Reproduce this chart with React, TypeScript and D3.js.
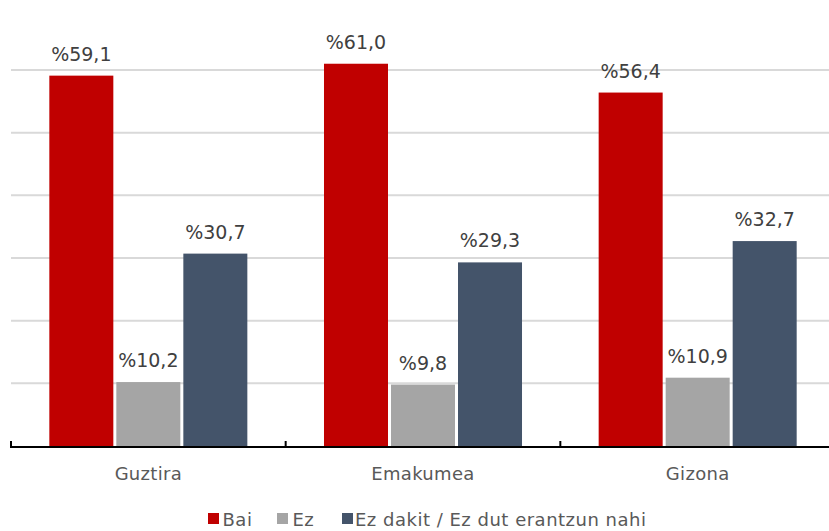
import React from "react";
import * as d3 from "d3";

const categories = ["Guztira", "Emakumea", "Gizona"];
const seriesNames = ["Bai", "Ez", "Ez dakit / Ez dut erantzun nahi"];
const bai = [59.1, 61.0, 56.4];
const ez = [10.2, 9.8, 10.9];
const ezDakit = [30.7, 29.3, 32.7];
const gridValues = [10, 20, 30, 40, 50, 60];
const colors = ["#C00000", "#A5A5A5", "#44546A"];

const W = 829;
const H = 531;
const FONT = "'DejaVu Sans', Verdana, sans-serif";

export default function App() {
  const seriesValues = [bai, ez, ezDakit];
  const x0 = d3.scaleBand<string>().domain(categories).range([11, 835]).paddingInner(0).paddingOuter(0);
  const bw = x0.bandwidth();
  const x1 = d3
    .scaleBand<string>()
    .domain(seriesNames)
    .range([0, bw])
    .paddingInner(0.0448)
    .paddingOuter(0.572);
  const y = d3.scaleLinear().domain([0, 60]).range([446, 70]);
  const fmt = (v: number) => "%" + v.toFixed(1).replace(".", ",");

  const tickXs = [...categories.map((c) => x0(c) as number), 835];

  const legendItems = [
    { sx: 208, tx: 222.5 },
    { sx: 277, tx: 292.5 },
    { sx: 342, tx: 355 },
  ];

  return (
    <svg width={W} height={H} style={{ position: "absolute", left: 0, top: 0, background: "#fff" }} fontFamily={FONT}>
      <rect x={0} y={0} width={W} height={H} fill="#fff" />
      {gridValues.map((g) => (
        <line key={g} x1={11} x2={835} y1={y(g)} y2={y(g)} stroke="#D9D9D9" strokeWidth={2} />
      ))}
      {categories.map((c, ci) =>
        seriesNames.map((s, si) => {
          const v = seriesValues[si][ci];
          const bx = (x0(c) as number) + (x1(s) as number);
          return (
            <g key={c + s}>
              <rect x={bx} y={y(v)} width={x1.bandwidth()} height={y(0) - y(v)} fill={colors[si]} />
              <text
                x={bx + x1.bandwidth() / 2}
                y={y(v) - 15}
                textAnchor="middle"
                fontSize={19}
                fill="#404040"
              >
                {fmt(v)}
              </text>
            </g>
          );
        })
      )}
      <line x1={10} x2={835} y1={447} y2={447} stroke="#000" strokeWidth={2} />
      {tickXs.map((tx, i) => (
        <line key={i} x1={tx} x2={tx} y1={441} y2={448} stroke="#000" strokeWidth={2} />
      ))}
      {categories.map((c) => (
        <text
          key={c}
          x={(x0(c) as number) + bw / 2}
          y={480}
          textAnchor="middle"
          fontSize={18}
          letterSpacing={0.3}
          fill="#595959"
        >
          {c}
        </text>
      ))}
      {seriesNames.map((s, i) => (
        <g key={s}>
          <rect x={legendItems[i].sx} y={513} width={11} height={11} fill={colors[i]} />
          <text x={legendItems[i].tx} y={526} fontSize={18} letterSpacing={0.5} fill="#595959">
            {s}
          </text>
        </g>
      ))}
    </svg>
  );
}
